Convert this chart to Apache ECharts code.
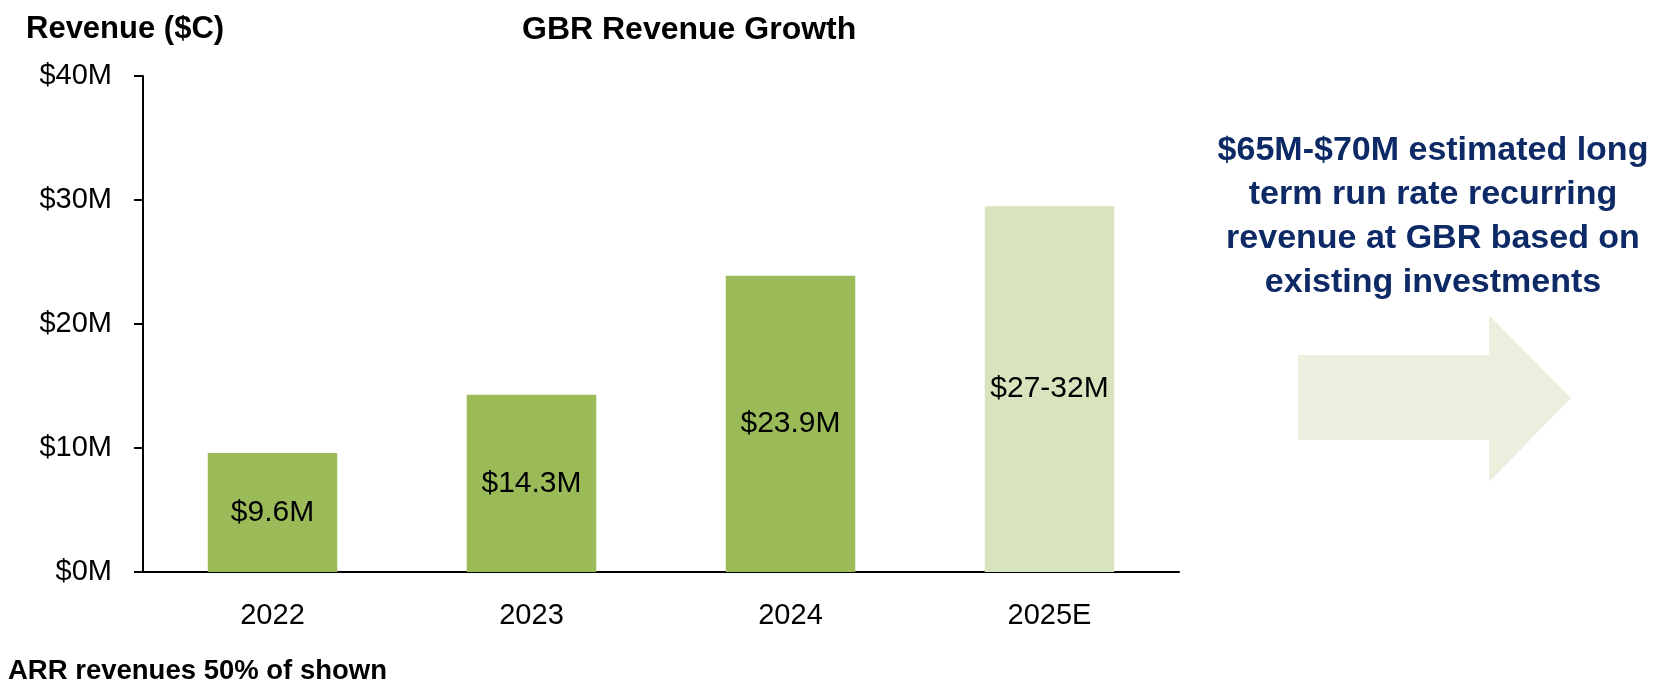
<!DOCTYPE html>
<html>
<head>
<meta charset="utf-8">
<script src="https://cdn.jsdelivr.net/npm/echarts@6/dist/echarts.min.js"></script>
<style>
  html, body { margin: 0; padding: 0; background: #fff; }
  #chart { width: 1662px; height: 686px; }
</style>
</head>
<body>
<div id="chart"></div>
<script>
// values, in $M
const years = ['2022', '2023', '2024', '2025E']
const revenue = [9.6, 14.3, 23.9, 29.5]
const barLabels = ['$9.6M', '$14.3M', '$23.9M', '$27-32M']
const barColors = ['#9bbb59', '#9bbb59', '#9bbb59', '#d7e4bd']
const noteLines = [
    '$65M-$70M estimated long',
    'term run rate recurring',
    'revenue at GBR based on',
    'existing investments'
]

const font = '"Liberation Sans", Arial, sans-serif'

const myChart = echarts.init(document.getElementById('chart'))
const option = {
    animation: false,
    textStyle: { fontFamily: font },
    title: [{
        text: 'Revenue ($C)',
        left: 26, top: 14, padding: 0,
        textStyle: { fontSize: 31, fontWeight: 'bold', color: '#000', fontFamily: font }
    }, {
        text: 'GBR Revenue Growth',
        left: 522, top: 14, padding: 0,
        textStyle: { fontSize: 32, fontWeight: 'bold', color: '#000', fontFamily: font }
    }, {
        text: 'ARR revenues 50% of shown',
        left: 8, top: 657, padding: 0,
        textStyle: { fontSize: 27.5, fontWeight: 'bold', color: '#000', fontFamily: font }
    }],
    grid: {
        left: 143,
        right: 483,
        top: 76,
        bottom: 114
    },
    xAxis: {
        type: 'category',
        data: years,
        axisLine: { lineStyle: { color: '#000', width: 2 } },
        axisTick: { show: false },
        axisLabel: { fontSize: 29, color: '#000', margin: 29 }
    },
    yAxis: {
        type: 'value',
        min: 0,
        max: 40,
        interval: 10,
        splitLine: { show: false },
        axisLine: { show: true, lineStyle: { color: '#000', width: 2 } },
        axisTick: { show: true, length: 9, lineStyle: { color: '#000', width: 2 } },
        axisLabel: {
            fontSize: 29, color: '#000', margin: 31,
            formatter: v => '$' + v + 'M'
        }
    },
    series: [{
        type: 'bar',
        barWidth: '50%',
        data: revenue.map((v, i) => ({
            value: v,
            itemStyle: { color: barColors[i] }
        })),
        label: {
            show: true,
            position: 'inside',
            fontSize: 30,
            color: '#000',
            formatter: p => barLabels[p.dataIndex]
        }
    }],
    graphic: [{
        // light arrow on the right
        type: 'polygon',
        shape: {
            points: [[1298, 355], [1489, 355], [1489, 315], [1571, 398],
                     [1489, 482], [1489, 440], [1298, 440]]
        },
        style: { fill: '#ebf0de' }
    }, {
        type: 'text',
        x: 1433,
        y: 129,
        style: {
            text: noteLines.join('\n'),
            fill: '#0d2a66',
            font: 'bold 34px ' + font,
            lineHeight: 44,
            align: 'center',
            verticalAlign: 'top'
        }
    }]
}
myChart.setOption(option)
</script>
</body>
</html>
